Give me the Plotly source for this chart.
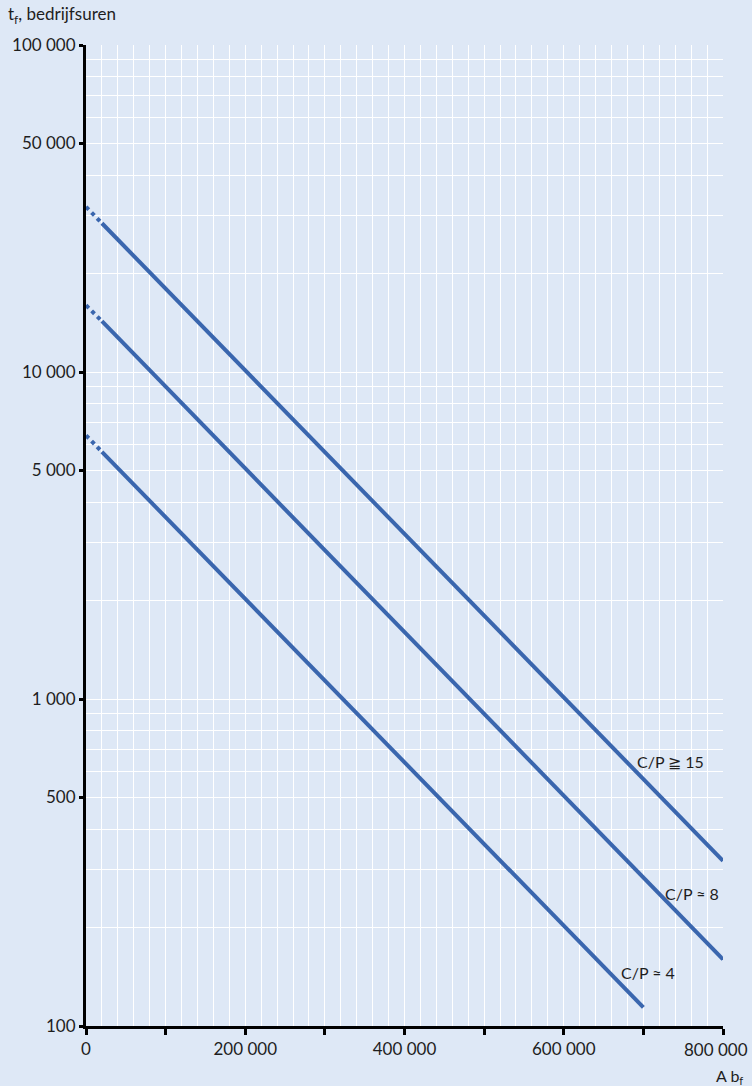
import math
import plotly.graph_objects as go

# Data (x = A b_f, y = t_f in operating hours)
cp15_dot_x = [0, 20000]
cp15_dot_y = [32000, 28500]
cp15_x = [20000, 800000]
cp15_y = [28500, 320]

cp8_dot_x = [0, 20000]
cp8_dot_y = [16000, 14300]
cp8_x = [20000, 800000]
cp8_y = [14300, 160]

cp4_dot_x = [0, 20000]
cp4_dot_y = [6400, 5700]
cp4_x = [20000, 700000]
cp4_y = [5700, 114]

labels = ["C/P ≧ 15", "C/P ≈ 8", "C/P ≈ 4"]
label_x = [734000, 761000, 706000]
label_y = [646, 255, 146]

x_tickvals = [0, 100000, 200000, 300000, 400000, 500000, 600000, 700000, 800000]
x_ticktext = ["0", "", "200 000", "", "400 000", "", "600 000", "", ""]
x_last_label = "800 000"
y_tickvals = [100, 500, 1000, 5000, 10000, 50000, 100000]
y_ticktext = ["100", "500", "1 000", "5 000", "10 000", "50 000", "100 000"]
y_minor = [m * 10 ** e for e in (2, 3, 4) for m in range(2, 10)]

LINE = "#3A66AE"
BG = "#DEE8F6"
FONT = "Lato"
TXT = "#1E1E1E"

fig = go.Figure()
for dx, dy, sx, sy in [(cp15_dot_x, cp15_dot_y, cp15_x, cp15_y),
                       (cp8_dot_x, cp8_dot_y, cp8_x, cp8_y),
                       (cp4_dot_x, cp4_dot_y, cp4_x, cp4_y)]:
    fig.add_trace(go.Scatter(x=dx, y=dy, mode="lines",
                             line=dict(color=LINE, width=4, dash="dot"),
                             showlegend=False, hoverinfo="skip"))
    fig.add_trace(go.Scatter(x=sx, y=sy, mode="lines",
                             line=dict(color=LINE, width=4),
                             showlegend=False))

for t, lx, ly in zip(labels, label_x, label_y):
    fig.add_annotation(x=lx, y=math.log10(ly), xref="x", yref="y", text=t,
                       showarrow=False, font=dict(family=FONT, size=16, color=TXT))

# last x tick label, nudged inside the page like in the reference
fig.add_annotation(x=x_tickvals[-1], y=-0.0235, xref="x", yref="paper",
                   text=x_last_label, showarrow=False, xanchor="right", yanchor="middle",
                   xshift=27, font=dict(family=FONT, size=17, color=TXT))

fig.add_annotation(x=-0.125, y=1.031, xref="paper", yref="paper",
                   text="t<sub>f</sub>, bedrijfsuren", showarrow=False,
                   xanchor="left", yanchor="middle",
                   font=dict(family=FONT, size=17, color=TXT))
fig.add_annotation(x=1.035, y=-0.051, xref="paper", yref="paper",
                   text="A b<sub>f</sub>", showarrow=False,
                   xanchor="right", yanchor="middle",
                   font=dict(family=FONT, size=16, color=TXT))

fig.update_layout(
    width=752, height=1086,
    margin=dict(l=83, r=29, t=45, b=60),
    paper_bgcolor=BG, plot_bgcolor=BG,
    font=dict(family=FONT, size=17, color=TXT),
    xaxis=dict(
        range=[0, 800000], tickmode="array", tickvals=x_tickvals, ticktext=x_ticktext,
        showgrid=True, gridcolor="white", gridwidth=1,
        showline=True, linecolor="black", linewidth=3,
        ticks="outside", ticklen=6, tickwidth=3, tickcolor="black",
        minor=dict(dtick=20000, tick0=0, showgrid=True, gridcolor="white", gridwidth=1, ticks=""),
        zeroline=False, fixedrange=True,
    ),
    yaxis=dict(
        type="log", range=[2, 5], tickmode="array", tickvals=y_tickvals, ticktext=y_ticktext,
        showgrid=True, gridcolor="white", gridwidth=1,
        showline=True, linecolor="black", linewidth=3,
        ticks="outside", ticklen=4, tickwidth=3, tickcolor="black",
        minor=dict(tickmode="array", tickvals=y_minor, showgrid=True, gridcolor="white",
                   gridwidth=1, ticks=""),
        zeroline=False, fixedrange=True,
    ),
)

fig.write_html("out.html", config={"displayModeBar": False},
               post_script="document.body.style.margin='0';document.body.style.overflow='hidden';")
